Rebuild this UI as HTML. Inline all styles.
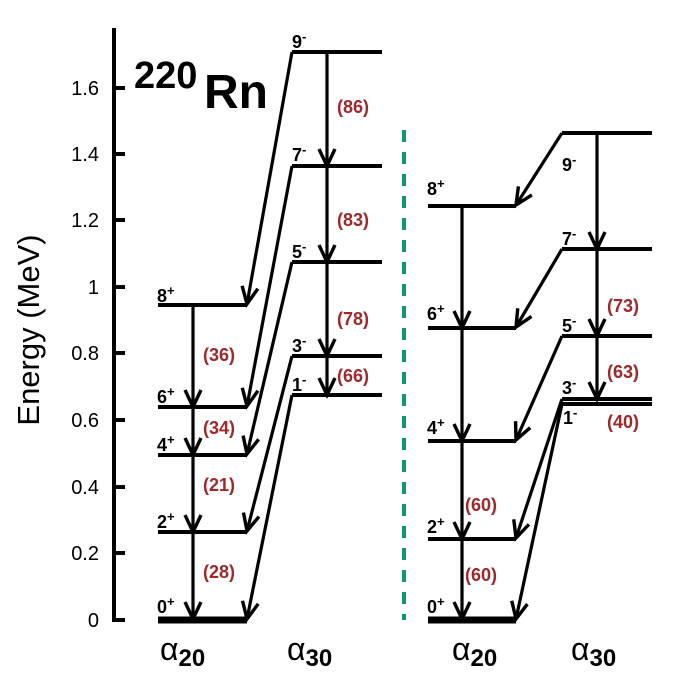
<!DOCTYPE html>
<html><head><meta charset="utf-8"><style>
html,body{margin:0;padding:0;background:#fff;}
svg{display:block;font-family:"Liberation Sans",Arial,sans-serif;}
.l{stroke:#000;stroke-width:4;fill:none;}
.a{stroke:#000;stroke-width:3.2;fill:none;marker-end:url(#ah);}
.s{font-size:18px;font-weight:bold;fill:#000;}
.r{font-size:18px;font-weight:bold;fill:#a0282a;}
.t{font-size:20px;fill:#000;text-anchor:end;}
</style></head><body>
<svg width="692" height="692" viewBox="0 0 692 692" xmlns="http://www.w3.org/2000/svg">
<defs>
<marker id="ah" markerUnits="userSpaceOnUse" markerWidth="24" markerHeight="22" viewBox="-20 -11 24 22" refX="0" refY="0" orient="auto">
<path d="M-17,-8 L0,0 L-17,8" fill="none" stroke="#000" stroke-width="3.4"/>
</marker>
</defs>
<path d="M114,28 V620 H125" stroke="#000" stroke-width="4" fill="none"/>
<g stroke="#000" stroke-width="4">
<line x1="114" y1="553" x2="125" y2="553"/><line x1="114" y1="487" x2="125" y2="487"/>
<line x1="114" y1="420" x2="125" y2="420"/><line x1="114" y1="353" x2="125" y2="353"/>
<line x1="114" y1="287" x2="125" y2="287"/><line x1="114" y1="220" x2="125" y2="220"/>
<line x1="114" y1="154" x2="125" y2="154"/><line x1="114" y1="88" x2="125" y2="88"/>
</g>
<text x="99" y="627" class="t">0</text><text x="99" y="560" class="t">0.2</text>
<text x="99" y="494" class="t">0.4</text><text x="99" y="427" class="t">0.6</text>
<text x="99" y="360" class="t">0.8</text><text x="99" y="294" class="t">1</text>
<text x="99" y="227" class="t">1.2</text><text x="99" y="161" class="t">1.4</text>
<text x="99" y="95" class="t">1.6</text>
<text transform="translate(39,330) rotate(-90)" text-anchor="middle" font-size="31">Energy (MeV)</text>
<text x="134" y="88" font-size="38" font-weight="bold">220</text>
<text x="204" y="108" font-size="48" font-weight="bold">Rn</text>

<line x1="158" y1="620" x2="247" y2="620" stroke="#000" stroke-width="7"/>
<line class="l" x1="158" y1="532" x2="247" y2="532"/>
<line class="l" x1="158" y1="455" x2="247" y2="455"/>
<line class="l" x1="158" y1="407" x2="247" y2="407"/>
<line class="l" x1="158" y1="305" x2="247" y2="305"/>
<line class="l" x1="292" y1="52" x2="382" y2="52"/>
<line class="l" x1="292" y1="166" x2="382" y2="166"/>
<line class="l" x1="292" y1="262" x2="382" y2="262"/>
<line class="l" x1="292" y1="356" x2="382" y2="356"/>
<line class="l" x1="292" y1="395" x2="382" y2="395"/>
<line class="a" x1="292" y1="52" x2="247" y2="304"/>
<line class="a" x1="292" y1="166" x2="247" y2="406"/>
<line class="a" x1="292" y1="262" x2="247" y2="454"/>
<line class="a" x1="292" y1="356" x2="247" y2="531"/>
<line class="a" x1="292" y1="395" x2="247" y2="619"/>
<line class="a" x1="193" y1="305" x2="193" y2="407"/>
<line class="a" x1="193" y1="407" x2="193" y2="455"/>
<line class="a" x1="193" y1="455" x2="193" y2="532"/>
<line class="a" x1="193" y1="532" x2="193" y2="619"/>
<line class="a" x1="327" y1="52" x2="327" y2="166"/>
<line class="a" x1="327" y1="166" x2="327" y2="262"/>
<line class="a" x1="327" y1="262" x2="327" y2="356"/>
<line class="a" x1="327" y1="356" x2="327" y2="395"/>
<text class="s" x="157" y="302">8<tspan dy="-7" font-size="13">+</tspan></text>
<text class="s" x="157" y="403">6<tspan dy="-7" font-size="13">+</tspan></text>
<text class="s" x="157" y="451">4<tspan dy="-7" font-size="13">+</tspan></text>
<text class="s" x="157" y="528">2<tspan dy="-7" font-size="13">+</tspan></text>
<text class="s" x="157" y="613">0<tspan dy="-7" font-size="13">+</tspan></text>
<text class="s" x="292" y="48">9<tspan dy="-7" font-size="13">-</tspan></text>
<text class="s" x="292" y="161">7<tspan dy="-7" font-size="13">-</tspan></text>
<text class="s" x="292" y="258">5<tspan dy="-7" font-size="13">-</tspan></text>
<text class="s" x="292" y="352">3<tspan dy="-7" font-size="13">-</tspan></text>
<text class="s" x="292" y="391">1<tspan dy="-7" font-size="13">-</tspan></text>
<text class="r" x="203" y="361">(36)</text>
<text class="r" x="203" y="434">(34)</text>
<text class="r" x="203" y="491">(21)</text>
<text class="r" x="203" y="578">(28)</text>
<text class="r" x="337" y="113">(86)</text>
<text class="r" x="337" y="226">(83)</text>
<text class="r" x="337" y="325">(78)</text>
<text class="r" x="337" y="382">(66)</text>

<line x1="404" y1="130" x2="404" y2="620" stroke="#0a9a6e" stroke-width="4" stroke-dasharray="12,10"/>

<line x1="428" y1="620" x2="516" y2="620" stroke="#000" stroke-width="7"/>
<line class="l" x1="428" y1="539" x2="516" y2="539"/>
<line class="l" x1="428" y1="441" x2="516" y2="441"/>
<line class="l" x1="428" y1="328" x2="516" y2="328"/>
<line class="l" x1="428" y1="206" x2="516" y2="206"/>
<line class="l" x1="562" y1="133" x2="652" y2="133"/>
<line class="l" x1="562" y1="249" x2="652" y2="249"/>
<line class="l" x1="562" y1="336" x2="652" y2="336"/>
<line class="l" x1="562" y1="399" x2="652" y2="399"/>
<line class="l" x1="562" y1="404" x2="652" y2="404"/>
<line class="a" x1="562" y1="133" x2="516" y2="205"/>
<line class="a" x1="562" y1="249" x2="516" y2="327"/>
<line class="a" x1="562" y1="336" x2="516" y2="440"/>
<line class="a" x1="562" y1="399" x2="516" y2="538"/>
<line class="a" x1="562" y1="404" x2="516" y2="619"/>
<line class="a" x1="462" y1="206" x2="462" y2="328"/>
<line class="a" x1="462" y1="328" x2="462" y2="441"/>
<line class="a" x1="462" y1="441" x2="462" y2="539"/>
<line class="a" x1="462" y1="539" x2="462" y2="619"/>
<line class="a" x1="597" y1="133" x2="597" y2="249"/>
<line class="a" x1="597" y1="249" x2="597" y2="336"/>
<line class="a" x1="597" y1="336" x2="597" y2="399"/>
<text class="s" x="427" y="195">8<tspan dy="-7" font-size="13">+</tspan></text>
<text class="s" x="427" y="320">6<tspan dy="-7" font-size="13">+</tspan></text>
<text class="s" x="427" y="434">4<tspan dy="-7" font-size="13">+</tspan></text>
<text class="s" x="427" y="533">2<tspan dy="-7" font-size="13">+</tspan></text>
<text class="s" x="427" y="613">0<tspan dy="-7" font-size="13">+</tspan></text>
<text class="s" x="562" y="171">9<tspan dy="-7" font-size="13">-</tspan></text>
<text class="s" x="562" y="245">7<tspan dy="-7" font-size="13">-</tspan></text>
<text class="s" x="562" y="332">5<tspan dy="-7" font-size="13">-</tspan></text>
<text class="s" x="562" y="394">3<tspan dy="-7" font-size="13">-</tspan></text>
<text class="s" x="563" y="424">1<tspan dy="-7" font-size="13">-</tspan></text>
<text class="r" x="607" y="312">(73)</text>
<text class="r" x="607" y="378">(63)</text>
<text class="r" x="607" y="428">(40)</text>
<text class="r" x="465" y="511">(60)</text>
<text class="r" x="465" y="581">(60)</text>

<g font-size="32">
<text x="160" y="660">α<tspan font-size="24" font-weight="bold" dy="6">20</tspan></text>
<text x="287" y="660">α<tspan font-size="24" font-weight="bold" dy="6">30</tspan></text>
<text x="452" y="660">α<tspan font-size="24" font-weight="bold" dy="6">20</tspan></text>
<text x="571" y="660">α<tspan font-size="24" font-weight="bold" dy="6">30</tspan></text>
</g>
</svg>
</body></html>
